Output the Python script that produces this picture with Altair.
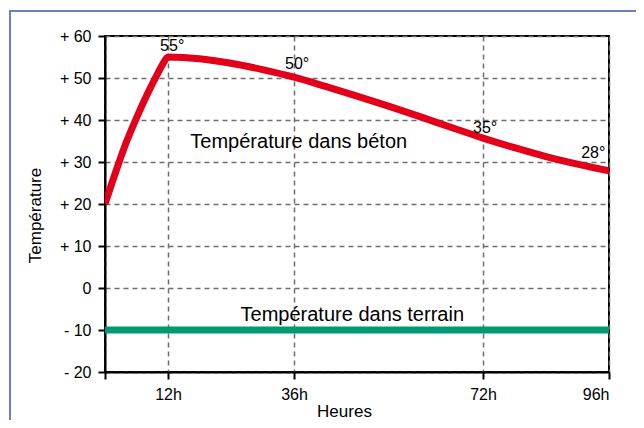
import altair as alt
import pandas as pd

# Concrete temperature curve (hours, °C)
beton_h = [0, 2, 4, 6, 8, 10, 11, 12, 18, 24, 30, 36, 42, 48, 54, 60, 66, 72, 78, 84, 90, 96]
beton_t = [20, 27.5, 34.5, 40.5, 46, 51, 53.3, 55, 54.6, 53.5, 52, 50.2, 48.0, 45.7, 43.3, 40.8, 38.2, 35.7, 33.4, 31.3, 29.5, 27.9]

# Ground temperature
terrain_h = [0, 96]
terrain_t = [-10, -10]

# Value annotations
ann_text = ["55°", "50°", "35°", "28°"]
ann_h = [12.8, 36.6, 72.4, 93.0]
ann_t = [57.6, 53.3, 38.1, 32.1]

# Series labels
lab_text = ["Température dans béton", "Température dans terrain"]
lab_h = [36.9, 47.1]
lab_t = [34.8, -6.4]

x_ticks = [0, 12, 36, 72, 96]
y_ticks = [-20, -10, 0, 10, 20, 30, 40, 50, 60]

FONT = "Liberation Sans"

beton = pd.DataFrame({"h": beton_h, "t": beton_t})
terrain = pd.DataFrame({"h": terrain_h, "t": terrain_t})
ann = pd.DataFrame({"txt": ann_text, "h": ann_h, "t": ann_t})
lab = pd.DataFrame({"txt": lab_text, "h": lab_h, "t": lab_t})

xscale = alt.Scale(domain=[0, 96], nice=False, zero=False)
yscale = alt.Scale(domain=[-20, 60], nice=False, zero=False)

xaxis = alt.Axis(
    values=x_ticks,
    labelExpr="datum.value == 0 ? '' : datum.value + 'h'",
    title="Heures", titleFontSize=17, titleFontWeight="normal", titleColor="black",
    titleX=239, titleY=39, titleBaseline="middle", titleAlign="center",
    labelPadding=7, gridDash=[5, 4],
)
yaxis = alt.Axis(
    values=y_ticks,
    labelExpr="datum.value > 0 ? '+ ' + datum.value : (datum.value < 0 ? '- ' + abs(datum.value) : '0')",
    title="Température", titleFontSize=17, titleFontWeight="normal", titleColor="black",
    titleX=-70, titleY=179, titleAngle=270, titleBaseline="middle", titleAlign="center",
    labelPadding=7, gridDash=[5, 4],
)

dummy = pd.DataFrame({"a": [0]})
border_top = alt.Chart(dummy).mark_rule(
    color="#6b7fc6", strokeWidth=2, clip=False
).encode(x=alt.value(-96), x2=alt.value(531), y=alt.value(-25))
border_left = alt.Chart(dummy).mark_rule(
    color="#6b7fc6", strokeWidth=2, clip=False
).encode(x=alt.value(-95), y=alt.value(-26), y2=alt.value(500))

base_line = alt.Chart(beton).mark_line(
    color="#e2001a", strokeWidth=7, strokeJoin="round", strokeCap="butt",
    interpolate="monotone", clip=True
).encode(
    x=alt.X("h:Q", scale=xscale, axis=xaxis),
    y=alt.Y("t:Q", scale=yscale, axis=yaxis),
)

ground = alt.Chart(terrain).mark_line(
    color="#009b72", strokeWidth=7, strokeCap="butt"
).encode(
    x=alt.X("h:Q", scale=xscale),
    y=alt.Y("t:Q", scale=yscale),
)

ann_chart = alt.Chart(ann).mark_text(
    font=FONT, fontSize=16, color="black", baseline="middle", align="center"
).encode(
    x=alt.X("h:Q", scale=xscale),
    y=alt.Y("t:Q", scale=yscale),
    text="txt:N",
)

lab_chart = alt.Chart(lab).mark_text(
    font=FONT, fontSize=20, color="black", baseline="middle", align="center"
).encode(
    x=alt.X("h:Q", scale=xscale),
    y=alt.Y("t:Q", scale=yscale),
    text="txt:N",
)

chart = alt.layer(border_top, border_left, ground, base_line, ann_chart, lab_chart).properties(
    width=504, height=336,
    autosize=alt.AutoSizeParams(type="none"),
    padding={"left": 97, "top": 28, "right": 27, "bottom": 48},
    background="white",
).configure_view(
    stroke="black", strokeWidth=2
).configure_axis(
    labelFont=FONT, titleFont=FONT, labelFontSize=16, labelColor="black",
    domainColor="black", domainWidth=2, tickColor="black", tickWidth=2, tickSize=7,
    gridColor="#6e6e6e", gridWidth=1.5, gridDash=[5, 4],
)

chart.save("out.html", embed_options={"renderer": "svg", "actions": False})
